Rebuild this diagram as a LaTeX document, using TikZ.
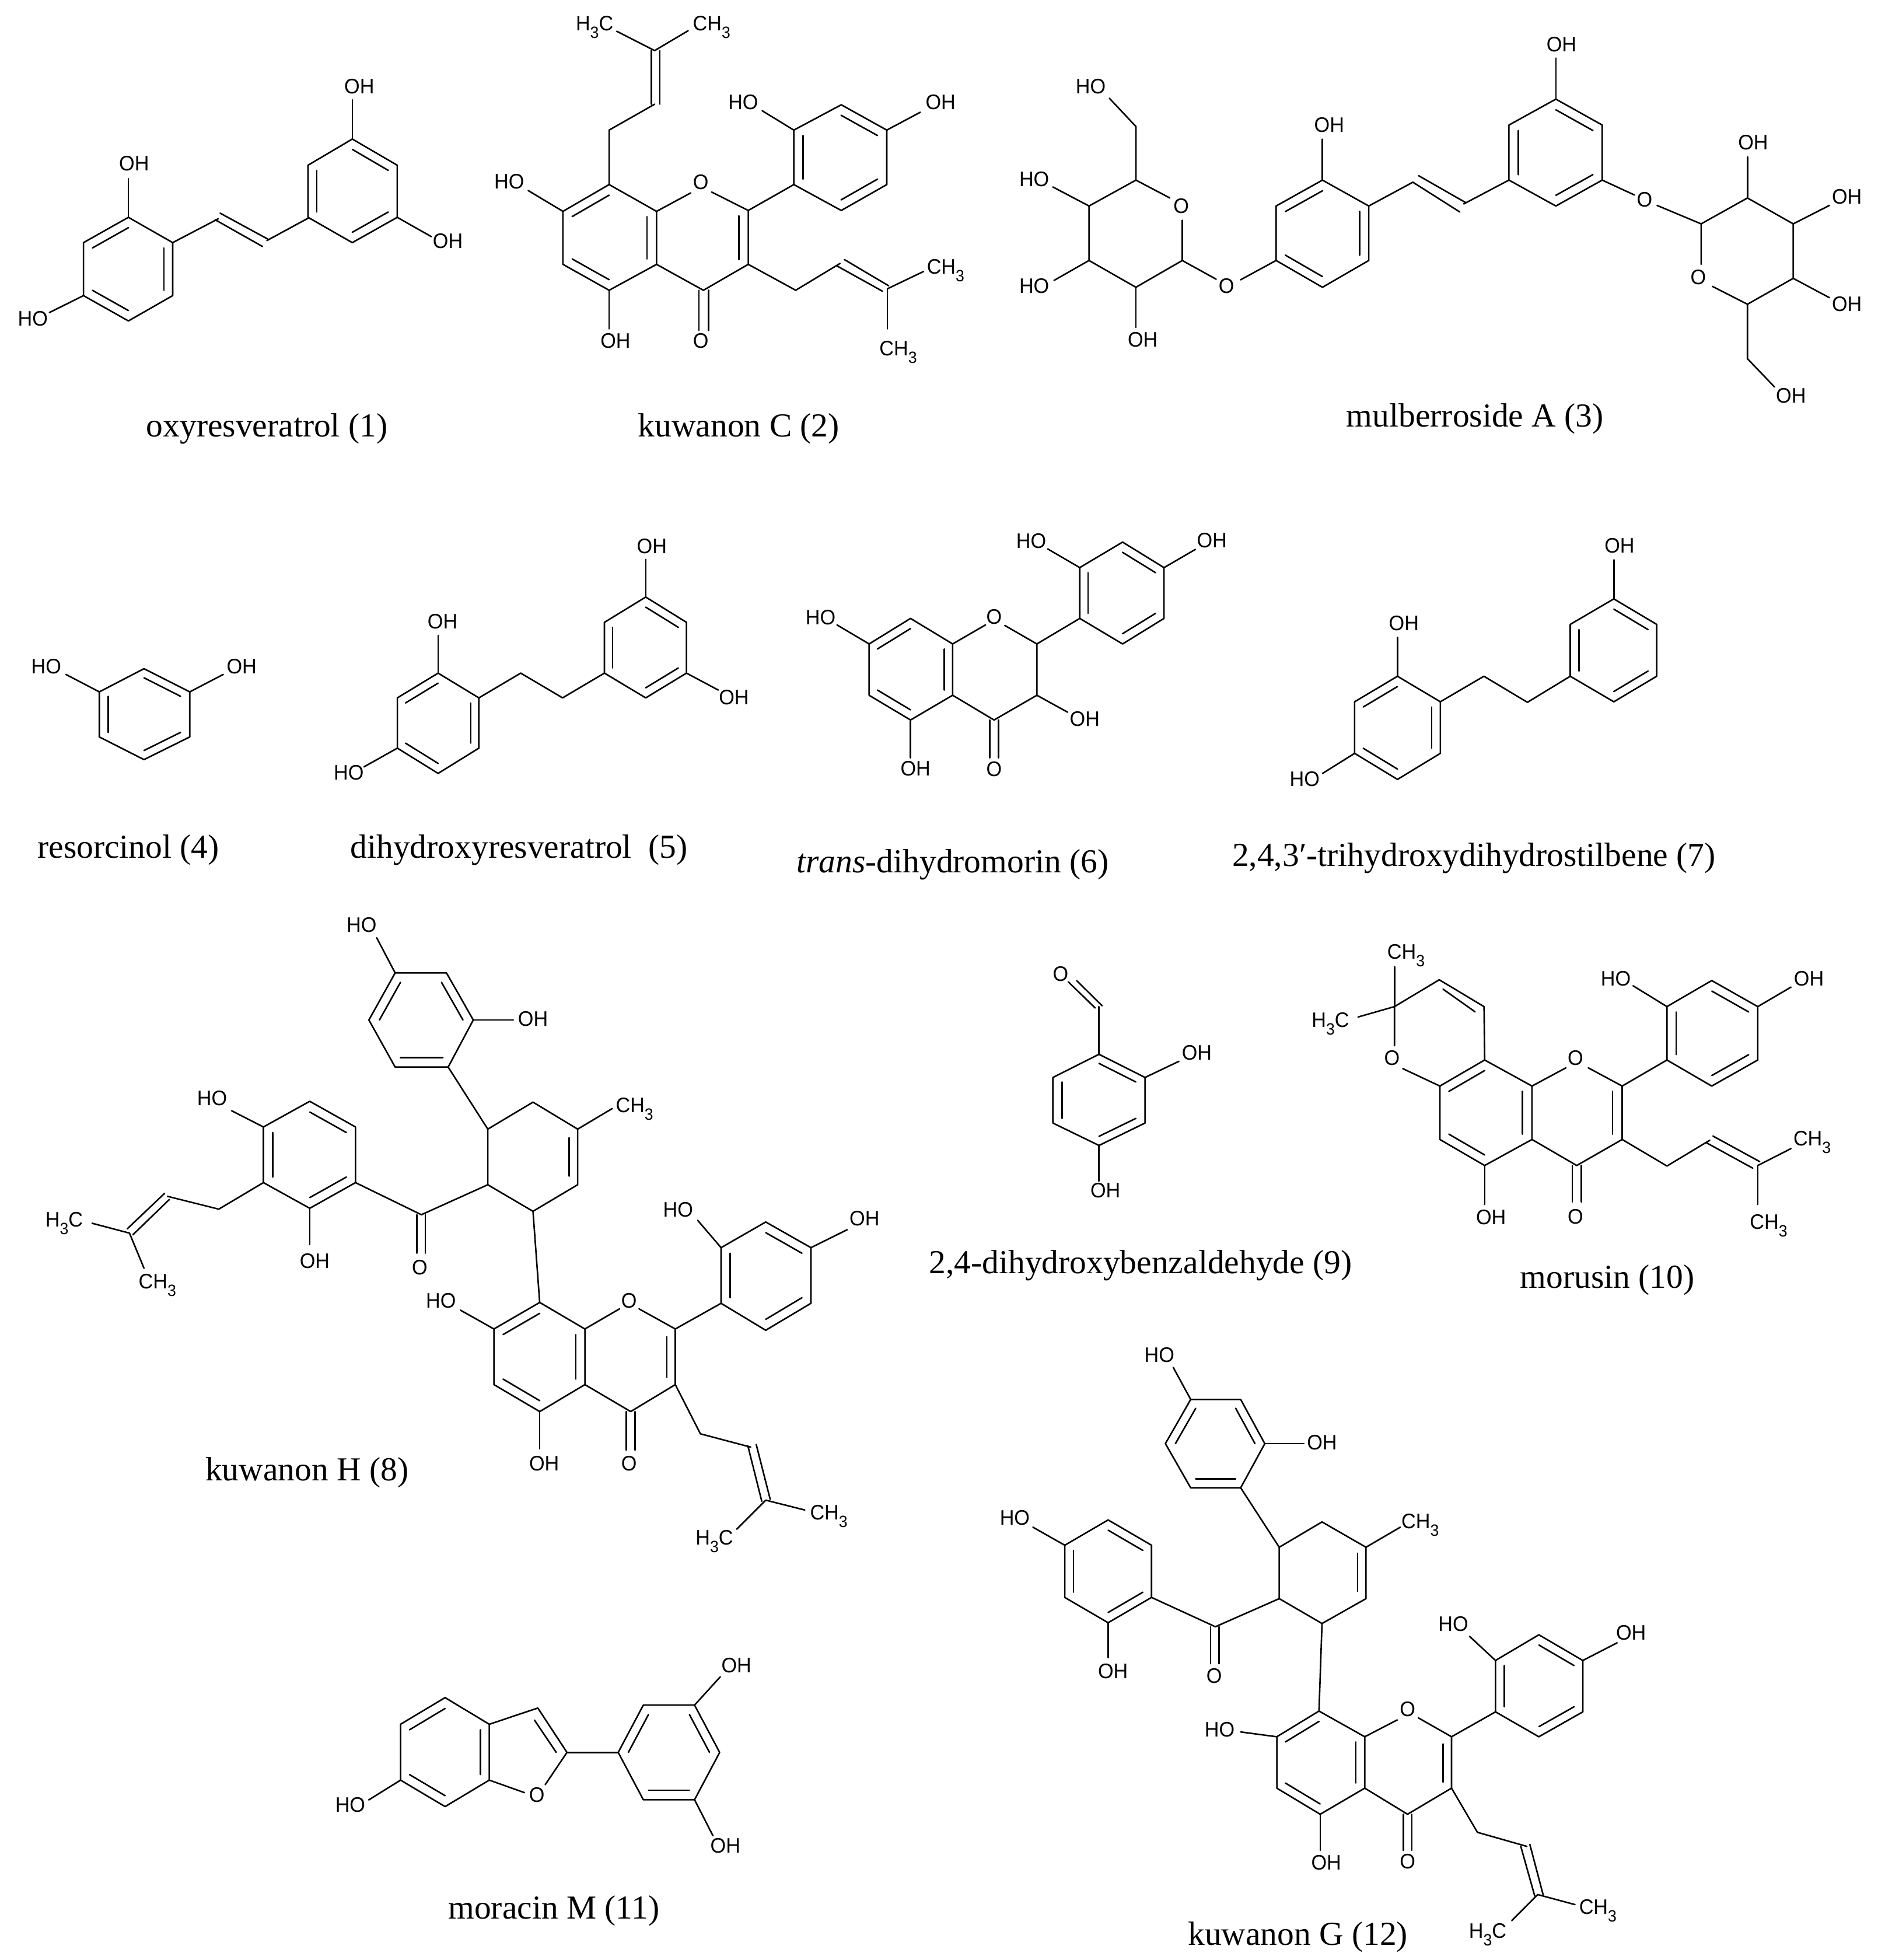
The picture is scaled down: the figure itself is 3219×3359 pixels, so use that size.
\documentclass[tikz,border=0pt]{standalone}
\usepackage{fontspec}
\setmainfont{Liberation Sans}[FakeStretch=0.95]
\newfontfamily\capfont{Liberation Serif}
\usetikzlibrary{calc}
\newcounter{nn}
\tikzset{
  bond/.style={line width=2.6pt,line cap=round,line join=round,black},
  atom/.style={inner sep=0pt,font=\fontsize{36}{36}\selectfont,text height=26pt,text depth=0pt,black},
  capt/.style={inner sep=0pt,font=\capfont\fontsize{57.5}{57.5}\selectfont,text height=38pt,text depth=11pt,black},
  zoomview/.style n args={4}{shift={(#1,#2)},x=#3/1568*1pt,y=-#4/1568*1pt}
}
\newcommand\subthree{\raisebox{-13pt}{\fontsize{28}{28}\selectfont 3}}
\newcommand\CHt{CH\subthree}
\newcommand\HtC{H\subthree C}
\newcommand\bnd{\draw[bond]}
\newcommand\lab[2]{\stepcounter{nn}\node[atom] (t\arabic{nn}) at (#1) {#2};}
\newcommand\cpt[2]{\stepcounter{nn}\node[capt] (t\arabic{nn}) at (#1) {#2};}
\newcommand\hexr[8]{%
  \coordinate (#1a) at (#2);\coordinate (#1b) at (#3);\coordinate (#1c) at (#4);
  \coordinate (#1d) at (#5);\coordinate (#1e) at (#6);\coordinate (#1f) at (#7);
  \coordinate (#1o) at ($(#1a)!.5!(#1d)$);
  \draw[bond] (#1a)--(#1b)--(#1c)--(#1d)--(#1e)--(#1f)--cycle;
  \foreach \p/\q in {#8}{\draw[bond] ($(#1o)!.8!(#1\p)$)--($(#1o)!.8!(#1\q)$);}%
}
\begin{document}
\begin{tikzpicture}[x=1pt,y=-1pt]
\useasboundingbox[fill=white] (0,0) rectangle (3219,3359);

% ---------- molecules 1 and 2
\begin{scope}[zoomview={0}{0}{1700}{800}]
\hexr{ma}{203,730}{273,815}{273,993}{203,1078}{132,993}{132,815}{a/f,b/c,d/e}
\lab{212,548}{OH}\bnd (203,600)--(203,730);
\lab{52,1070}{HO}\bnd (132,993)--(78,1050);
\bnd (273,815)--(345,735);
\bnd (348,716)--(425,805);\bnd (340,738)--(415,828);
\bnd (422,808)--(487,733);
\hexr{mb}{557,467}{628,555}{628,730}{557,815}{487,730}{487,555}{a/b,e/f,c/d}
\lab{568,290}{OH}\bnd (557,335)--(557,467);
\lab{708,808}{OH}\bnd (628,730)--(682,795);
\cpt{422,1440}{oxyresveratrol (1)}

\lab{940,78}{\HtC}\lab{1125,78}{\CHt}
\bnd (975,105)--(1035,170)--(1088,103);
\bnd (1030,170)--(1030,350);\bnd (1043,170)--(1043,350);
\bnd (1035,350)--(963,437)--(963,620);
\hexr{mc}{963,620}{1038,710}{1038,888}{963,975}{890,888}{890,710}{a/f,b/c,d/e}
\bnd (1038,710)--(1092,648);\lab{1108,610}{O}
\bnd (1125,645)--(1183,707)--(1183,888)--(1112,975)--(1038,888);
\bnd (1168,725)--(1168,872);
\bnd (1105,975)--(1105,1110);\bnd (1120,975)--(1120,1110);
\lab{1108,1143}{O}
\lab{973,1143}{OH}\bnd (963,975)--(963,1105);
\lab{805,608}{HO}\bnd (835,640)--(890,710);
\bnd (1183,707)--(1255,620);
\hexr{md}{1255,620}{1255,437}{1330,352}{1402,437}{1402,620}{1330,707}{a/b,c/d,e/f}
\lab{1175,342}{HO}\bnd (1205,372)--(1255,437);
\lab{1487,342}{OH}\bnd (1402,437)--(1455,377);
\bnd (1183,888)--(1258,975)--(1328,885);
\bnd (1335,872)--(1405,960);\bnd (1323,893)--(1395,978);
\lab{1495,895}{\CHt}\bnd (1403,970)--(1460,912);
\lab{1420,1170}{\CHt}\bnd (1403,970)--(1403,1105);
\cpt{1168,1440}{kuwanon C (2)}
\end{scope}

% ---------- molecule 3
\begin{scope}[zoomview={1700}{0}{1519}{800}]
\bnd (315,665)--(255,605)--(172,692)--(172,875)--(255,965)--(337,875)--(337,740);
\lab{335,690}{O}
\bnd (255,605)--(255,425)--(208,330);\lab{175,290}{HO}
\lab{75,600}{HO}\bnd (108,628)--(172,692);
\lab{75,960}{HO}\bnd (110,942)--(172,875);
\lab{267,1140}{OH}\bnd (255,965)--(255,1100);
\lab{415,960}{O}\bnd (337,875)--(397,938);\bnd (440,940)--(503,875);
\hexr{me}{585,605}{667,692}{667,875}{585,965}{503,875}{503,692}{a/f,b/c,d/e}
\lab{597,418}{OH}\bnd (585,468)--(585,605);
\bnd (667,692)--(745,612);
\bnd (755,590)--(838,680);\bnd (745,612)--(828,712);
\bnd (835,685)--(915,605);
\hexr{mf}{998,333}{1080,420}{1080,605}{998,692}{915,605}{915,420}{a/b,c/d,e/f}
\lab{1008,148}{OH}\bnd (998,195)--(998,333);
\lab{1155,670}{O}\bnd (1080,605)--(1137,655);\bnd (1177,690)--(1255,752);
\bnd (1255,888)--(1255,752)--(1337,665)--(1418,752)--(1418,935)--(1337,1022)--(1275,962);
\lab{1250,930}{O}
\lab{1347,477}{OH}\bnd (1337,527)--(1337,665);
\lab{1513,660}{OH}\bnd (1418,752)--(1482,690);
\lab{1513,1020}{OH}\bnd (1418,935)--(1482,1000);
\bnd (1337,1022)--(1337,1205)--(1385,1300);\lab{1414,1328}{OH}
\cpt{855,1408}{mulberroside A (3)}
\end{scope}

% ---------- molecules 4 and 5
\begin{scope}[zoomview={0}{850}{1500}{700}]
\hexr{mg}{258,663}{340,752}{340,925}{258,1012}{178,925}{178,752}{a/b,c/d,e/f}
\lab{83,652}{HO}\bnd (118,685)--(178,752);
\lab{433,652}{OH}\bnd (340,752)--(400,685);
\cpt{230,1360}{resorcinol (4)}
\hexr{mh}{785,680}{858,775}{858,968}{785,1065}{712,968}{712,775}{a/f,b/c,d/e}
\lab{793,480}{OH}\bnd (785,535)--(785,680);
\lab{625,1060}{HO}\bnd (712,968)--(652,1040);
\bnd (858,775)--(933,680)--(1008,775)--(1083,680);
\hexr{mi}{1157,388}{1230,485}{1230,680}{1157,775}{1083,680}{1083,485}{a/b,c/d,e/f}
\lab{1168,192}{OH}\bnd (1157,243)--(1157,388);
\lab{1315,772}{OH}\bnd (1230,680)--(1287,745);
\cpt{930,1360}{dihydroxyresveratrol\ \ (5)}
\end{scope}

% ---------- molecules 6 and 7
\begin{scope}[zoomview={1300}{850}{1919}{700}]
\hexr{mj}{213,470}{272,568}{272,765}{213,860}{155,765}{155,568}{a/f,b/c,d/e}
\bnd (272,568)--(318,495);\lab{330,462}{O}
\bnd (345,497)--(390,568)--(390,765)--(330,860)--(272,765);
\lab{87,465}{HO}\bnd (110,495)--(155,568);
\lab{220,1045}{OH}\bnd (213,860)--(213,1005);
\bnd (324,860)--(324,1005);\bnd (336,860)--(336,1005);\lab{330,1047}{O}
\lab{457,855}{OH}\bnd (390,765)--(433,830);
\bnd (390,568)--(450,470);
\hexr{mk}{450,470}{450,275}{510,177}{568,275}{568,470}{510,568}{a/b,c/d,e/f}
\lab{382,172}{HO}\bnd (405,203)--(450,275);
\lab{635,170}{OH}\bnd (568,275)--(612,205);
\cpt{272,1415}{\textit{trans}-dihydromorin (6)}
\hexr{ml}{895,692}{955,790}{955,988}{895,1088}{835,988}{835,790}{a/f,b/c,d/e}
\lab{904,488}{OH}\bnd (895,543)--(895,692);
\lab{765,1085}{HO}\bnd (835,988)--(790,1065);
\bnd (955,790)--(1016,692)--(1077,792)--(1137,692);
\hexr{mm}{1198,395}{1258,493}{1258,692}{1198,790}{1137,692}{1137,493}{a/b,c/d,e/f}
\lab{1206,190}{OH}\bnd (1198,245)--(1198,395);
\cpt{1002,1392}{2,4,3′-trihydroxydihydrostilbene (7)}
\end{scope}

% ---------- molecule 8
\begin{scope}[zoomview={0}{1550}{1500}{1150}]
\hexr{mn}{708,160}{800,160}{848,270}{803,380}{708,380}{661,270}{b/c,d/e,f/a}
\lab{648,47}{HO}\bnd (675,78)--(708,160);
\lab{955,267}{OH}\bnd (848,270)--(920,270);
\bnd (803,380)--(874,525);
\bnd (874,525)--(955,462)--(1035,525)--(1035,655)--(955,717)--(874,655)--cycle;
\bnd (1020,545)--(1020,635);
\lab{1137,468}{\CHt}\bnd (1035,525)--(1097,477);
\bnd (874,655)--(755,725)--(637,650);
\bnd (747,725)--(747,815);\bnd (762,725)--(762,815);\lab{752,847}{O}
\hexr{mo}{555,460}{637,520}{637,650}{555,710}{472,650}{472,520}{a/b,c/d,e/f}
\lab{380,452}{HO}\bnd (415,482)--(472,520);
\lab{564,833}{OH}\bnd (555,710)--(555,795);
\bnd (472,650)--(392,712)--(300,682);
\bnd (295,675)--(228,758);\bnd (303,690)--(238,772);
\bnd (165,745)--(232,768)--(258,850);
\lab{115,735}{\HtC}\lab{282,880}{\CHt}
\bnd (955,717)--(967,930);
\hexr{mp}{967,930}{1048,992}{1048,1122}{967,1185}{885,1122}{885,992}{a/f,b/c,d/e}
\bnd (1048,992)--(1110,945);\lab{1127,925}{O}
\bnd (1145,945)--(1210,992)--(1210,1122)--(1130,1185)--(1048,1122);
\bnd (1195,1010)--(1195,1105);
\bnd (1122,1185)--(1122,1275);\bnd (1138,1185)--(1138,1275);\lab{1127,1305}{O}
\lab{975,1305}{OH}\bnd (967,1185)--(967,1272);
\lab{790,925}{HO}\bnd (825,948)--(885,992);
\bnd (1210,992)--(1292,932);
\hexr{mq}{1292,932}{1292,802}{1372,742}{1453,802}{1453,932}{1372,995}{a/b,c/d,e/f}
\lab{1215,712}{HO}\bnd (1250,738)--(1292,802);
\lab{1549,733}{OH}\bnd (1453,802)--(1518,760);
\bnd (1210,1122)--(1255,1237)--(1345,1268);
\bnd (1340,1265)--(1365,1395);\bnd (1355,1262)--(1380,1390);
\lab{1485,1420}{\CHt}\bnd (1372,1392)--(1442,1415);
\lab{1280,1478}{\HtC}\bnd (1372,1392)--(1320,1460);
\cpt{550,1328}{kuwanon H (8)}
\end{scope}

% ---------- molecules 9 and 10
\begin{scope}[zoomview={1500}{1580}{1719}{700}]
\hexr{mr}{350,508}{422,597}{422,772}{350,858}{278,772}{278,597}{a/b,c/d,e/f}
\bnd (350,508)--(350,325);
\bnd (344,330)--(302,230);\bnd (355,322)--(315,225);\lab{290,198}{O}
\lab{503,500}{OH}\bnd (422,597)--(475,535);
\lab{360,1030}{OH}\bnd (350,858)--(350,995);
\cpt{415,1320}{2,4-dihydroxybenzaldehyde (9)}
\hexr{ms}{953,530}{1027,630}{1027,835}{953,935}{883,835}{883,630}{a/f,b/c,d/e}
\bnd (883,630)--(825,563);\lab{808,520}{O}
\bnd (812,475)--(812,325)--(882,222)--(952,325)--(953,530);
\bnd (888,258)--(938,345);
\lab{830,113}{\CHt}\bnd (812,172)--(812,325);
\lab{712,375}{\HtC}\bnd (755,365)--(812,325);
\bnd (1027,630)--(1080,560);\lab{1095,520}{O}
\bnd (1115,560)--(1168,630)--(1168,835)--(1097,935)--(1027,835);
\bnd (1153,650)--(1153,815);
\bnd (1090,935)--(1090,1075);\bnd (1104,935)--(1104,1075);\lab{1095,1130}{O}
\lab{963,1132}{OH}\bnd (953,935)--(953,1085);
\bnd (1168,630)--(1238,530);
\hexr{mt}{1238,530}{1238,325}{1308,225}{1380,325}{1380,530}{1308,630}{a/b,c/d,e/f}
\lab{1158,215}{HO}\bnd (1185,245)--(1238,325);
\lab{1460,215}{OH}\bnd (1380,325)--(1432,250);
\bnd (1168,835)--(1238,937)--(1305,838);
\bnd (1310,822)--(1383,920);\bnd (1300,848)--(1372,945);
\lab{1465,830}{\CHt}\bnd (1380,935)--(1432,870);
\lab{1397,1150}{\CHt}\bnd (1380,935)--(1380,1085);
\cpt{1145,1375}{morusin (10)}
\end{scope}

% ---------- molecule 12
\begin{scope}[zoomview={1600}{2280}{1619}{1079}]
\hexr{mu}{427,172}{510,172}{550,282}{510,392}{427,392}{385,282}{b/c,d/e,f/a}
\lab{375,60}{HO}\bnd (398,92)--(427,172);
\lab{645,278}{OH}\bnd (550,282)--(615,282);
\bnd (510,392)--(574,540);
\bnd (574,540)--(645,477)--(718,540)--(718,668)--(645,730)--(574,668)--cycle;
\bnd (704,555)--(704,650);
\lab{808,475}{\CHt}\bnd (718,540)--(775,490);
\bnd (574,668)--(468,738)--(362,665);
\bnd (460,738)--(460,830);\bnd (474,738)--(474,830);\lab{466,860}{O}
\hexr{mv}{290,472}{362,535}{362,665}{290,728}{218,665}{218,535}{a/b,c/d,e/f}
\lab{135,465}{HO}\bnd (165,490)--(218,535);
\lab{298,848}{OH}\bnd (290,728)--(290,815);
\bnd (645,730)--(640,948);
\hexr{mw}{640,948}{716,1012}{716,1140}{642,1205}{570,1140}{570,1012}{a/f,b/c,d/e}
\lab{475,993}{HO}\bnd (510,1000)--(570,1012);
\lab{652,1325}{OH}\bnd (642,1205)--(642,1295);
\bnd (716,1012)--(770,970);\lab{787,942}{O}
\bnd (805,965)--(860,1012)--(860,1140)--(787,1205)--(716,1140);
\bnd (846,1030)--(846,1125);
\bnd (780,1205)--(780,1295);\bnd (794,1205)--(794,1295);\lab{787,1322}{O}
\bnd (860,1012)--(933,950);
\hexr{mx}{933,950}{933,822}{1005,758}{1078,822}{1078,950}{1005,1012}{a/b,c/d,e/f}
\lab{863,730}{HO}\bnd (890,762)--(933,822);
\lab{1158,752}{OH}\bnd (1078,822)--(1135,778);
\bnd (860,1140)--(903,1250)--(985,1285);
\bnd (975,1285)--(998,1408);\bnd (990,1280)--(1012,1405);
\lab{1103,1435}{\CHt}\bnd (1003,1405)--(1065,1430);
\lab{920,1495}{\HtC}\bnd (1003,1405)--(960,1470);
\cpt{605,1512}{kuwanon G (12)}
\end{scope}

% ---------- molecule 11
\begin{scope}[zoomview={500}{2780}{900}{560}]
\hexr{my}{458,362}{590,490}{590,758}{458,885}{325,758}{325,490}{a/f,b/c,d/e}
\bnd (590,490)--(735,412)--(822,625)--(757,780);
\bnd (725,470)--(790,625);
\lab{732,828}{O}\bnd (695,818)--(590,758);
\lab{175,875}{HO}\bnd (325,758)--(230,853);
\bnd (822,625)--(975,625);
\hexr{mz}{975,625}{1050,398}{1203,398}{1278,625}{1203,852}{1050,852}{a/b,c/d,e/f}
\lab{1328,205}{OH}\bnd (1203,398)--(1280,262);
\lab{1295,1072}{OH}\bnd (1203,852)--(1258,1025);
\cpt{783,1385}{moracin M (11)}
\end{scope}
\end{tikzpicture}
\end{document}
